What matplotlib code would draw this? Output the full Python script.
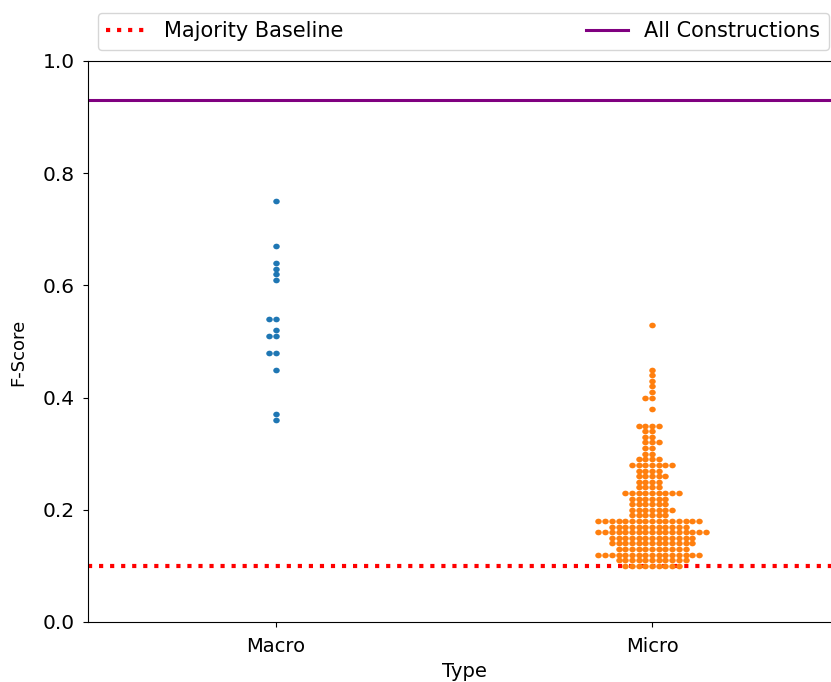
import numpy as np
import matplotlib
matplotlib.use("Agg")
import matplotlib.pyplot as plt
from matplotlib.path import Path
from matplotlib.transforms import Affine2D

# F-scores
macro_scores = [0.75, 0.67, 0.64, 0.63, 0.62, 0.61, 0.54, 0.54, 0.52,
                0.51, 0.51, 0.48, 0.48, 0.45, 0.37, 0.36]

# micro scores: level -> number of points at that level
micro_levels = [0.53, 0.45, 0.44, 0.43, 0.42, 0.41, 0.40, 0.38, 0.35, 0.34,
                0.33, 0.32, 0.31, 0.30, 0.29, 0.28, 0.27, 0.26, 0.25, 0.24,
                0.23, 0.22, 0.21, 0.20, 0.19, 0.18, 0.17, 0.16, 0.15, 0.14,
                0.13, 0.12, 0.11, 0.10]
micro_counts = [1, 1, 1, 1, 1, 1, 2, 1, 4, 2,
                2, 3, 2, 2, 4, 7, 4, 5, 4, 4,
                9, 6, 6, 7, 6, 16, 12, 17, 13, 13,
                11, 16, 11, 9]

categories = ["Macro", "Micro"]
colors = ["#1f77b4", "#ff7f0e"]
majority_baseline = 0.10
all_constructions = 0.93

micro_scores = np.repeat(micro_levels, micro_counts)


def swarm_offsets(values, step):
    # points sharing a value are laid out centre, left, right, left, ...
    vals = np.round(np.asarray(values, dtype=float), 4)
    offs = np.zeros(len(vals))
    for v in np.unique(vals):
        idx = np.where(vals == v)[0]
        for k, i in enumerate(idx):
            if k == 0:
                offs[i] = 0
            elif k % 2 == 1:
                offs[i] = -(k + 1) // 2 * step
            else:
                offs[i] = k // 2 * step
    return offs


plt.rcParams["font.family"] = ["DejaVu Sans"]
plt.rcParams["font.size"] = 14

fig = plt.figure(figsize=(8.31, 6.82), dpi=100)
ax = fig.add_axes([0.1059, 0.088, 0.905, 0.8226])

# slightly wide dot, like the reference
dot = Path.unit_circle().transformed(Affine2D().scale(1.15, 1.0))
step = 0.0178  # horizontal spacing of dots in category units

for pos, (vals, col) in enumerate(zip([macro_scores, micro_scores], colors)):
    x = pos + swarm_offsets(vals, step)
    ax.scatter(x, vals, s=22, marker=dot, color=col, linewidths=0, zorder=3)

ax.axhline(majority_baseline, color="red", linestyle=":", linewidth=3,
           label="Majority Baseline", zorder=2)
ax.axhline(all_constructions, color="purple", linestyle="-", linewidth=2.2,
           label="All Constructions", zorder=2)

ax.set_ylim(0, 1.0)
ax.set_xlim(-0.5, 1.5)
ax.set_xticks([0, 1])
ax.set_xticklabels(categories)
ax.set_yticks([0.0, 0.2, 0.4, 0.6, 0.8, 1.0])
ax.tick_params(axis="y", labelsize=14.5, pad=6)
ax.tick_params(axis="x", labelsize=14, pad=7.5)
ax.set_ylabel("F-Score", fontsize=13, labelpad=11, y=0.48)
ax.set_xlabel("Type", fontsize=14, labelpad=4)

ax.legend(bbox_to_anchor=(0.013, 1.02, 0.972, 0.1), loc="lower left",
          ncol=2, mode="expand", borderaxespad=0, fontsize=15)

fig.savefig("out.png", dpi=100)
